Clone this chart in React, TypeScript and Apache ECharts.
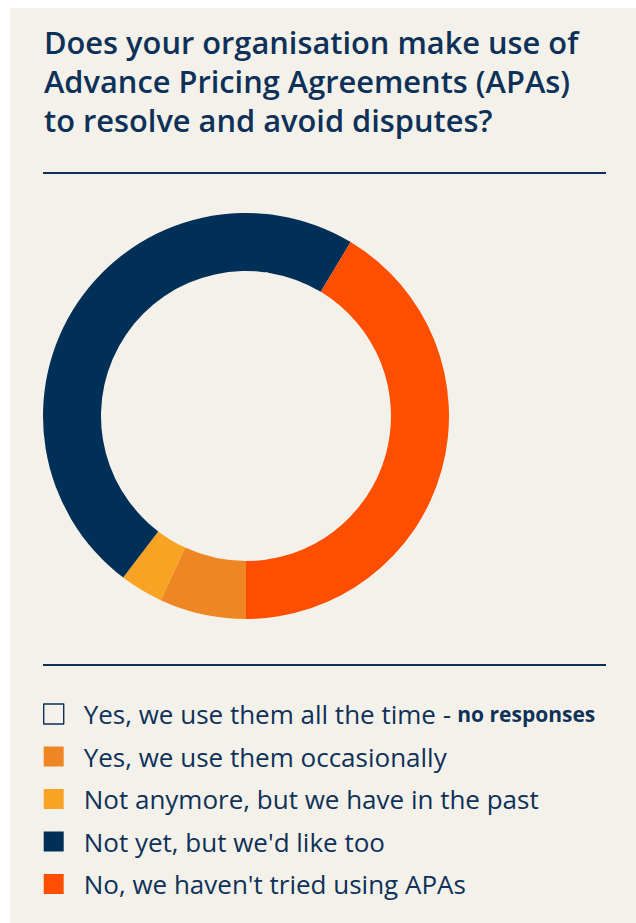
import React, { useEffect, useRef } from "react";
import * as echarts from "echarts";

const titleLines = [
  "Does your organisation make use of",
  "Advance Pricing Agreements (APAs)",
  "to resolve and avoid disputes?",
];
const categories = [
  "Yes, we use them all the time",
  "Yes, we use them occasionally",
  "Not anymore, but we have in the past",
  "Not yet, but we'd like too",
  "No, we haven't tried using APAs",
];
const responses = [0, 2, 1, 14, 12];
const colors = ["#0d3158", "#ee8624", "#f8a324", "#003057", "#fe4f00"];
const noResponseNote = "no responses";

const NAVY = "#0d3158";
const BG = "#f4f1ea";
const FONT = "'Open Sans', 'Noto Sans', sans-serif";

export default function App() {
  const ref = useRef<HTMLDivElement>(null);
  useEffect(() => {
    if (!ref.current) return;
    const chart = echarts.init(ref.current, null, { renderer: "svg" });
    const data = categories.map((name, i) => ({
      name,
      value: responses[i],
      itemStyle: { color: colors[i] },
    }));
    const legendData = categories.map((name, i) =>
      responses[i] === 0
        ? {
            name,
            icon: "rect",
            itemStyle: { color: "rgba(0,0,0,0)", borderColor: NAVY, borderWidth: 1.4 },
          }
        : { name, icon: "rect" }
    );
    chart.setOption({
      animation: false,
      backgroundColor: BG,
      title: {
        text: titleLines.join("\n"),
        left: 34,
        top: 14,
        padding: 0,
        textStyle: {
          fontFamily: FONT,
          fontSize: 30.8,
          fontWeight: 600,
          color: NAVY,
          lineHeight: 39,
        },
      },
      graphic: [
        {
          type: "line",
          shape: { x1: 33, y1: 165, x2: 596, y2: 165 },
          style: { stroke: NAVY, lineWidth: 2 },
        },
        {
          type: "line",
          shape: { x1: 33, y1: 657, x2: 596, y2: 657 },
          style: { stroke: NAVY, lineWidth: 2 },
        },
      ],
      legend: {
        orient: "vertical",
        left: 33,
        top: 693,
        padding: 0,
        itemWidth: 20,
        itemHeight: 20,
        itemGap: 16.5,
        selectedMode: false,
        data: legendData,
        formatter: (name: string) => {
          const i = categories.indexOf(name);
          return responses[i] === 0
            ? `{t|${name} -}  {b|${noResponseNote}}`
            : `{t|${name}}`;
        },
        textStyle: {
          fontFamily: FONT,
          color: NAVY,
          padding: [0, 0, 0, 15],
          rich: {
            t: { fontFamily: FONT, fontSize: 26, color: NAVY, lineHeight: 24 },
            b: { fontFamily: FONT, fontSize: 21, fontWeight: "bold", color: NAVY, lineHeight: 24 },
          },
        },
      },
      series: [
        {
          type: "pie",
          center: [236, 408],
          radius: [145, 203],
          startAngle: -90,
          clockwise: true,
          label: { show: false },
          labelLine: { show: false },
          emphasis: { disabled: true },
          silent: true,
          data,
        },
      ],
    });
    return () => chart.dispose();
  }, []);
  return (
    <div
      ref={ref}
      style={{ position: "fixed", left: 10, top: 8, width: 626, height: 915 }}
    />
  );
}
